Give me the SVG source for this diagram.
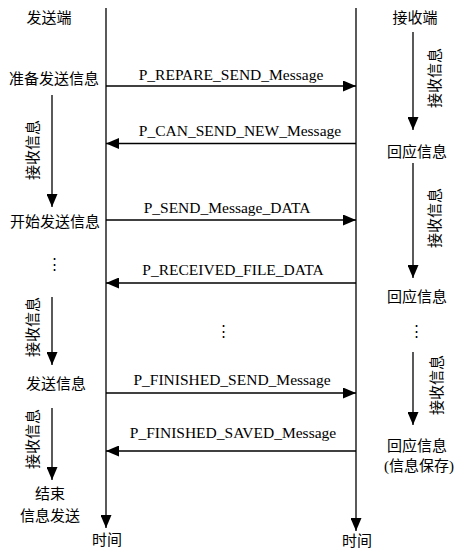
<svg xmlns="http://www.w3.org/2000/svg" width="454" height="550" viewBox="0 0 454 550">
<style>
.ln{stroke:#000;stroke-width:1.3;fill:none}
.en{font-family:"Liberation Serif","Times New Roman",serif;font-size:15.5px;fill:#000;text-anchor:middle}
.cn{font-family:"Liberation Serif","Noto Sans CJK SC",serif;font-size:15px;fill:#000;text-anchor:middle}
.rt{font-family:"Liberation Serif","Noto Sans CJK SC",serif;font-size:15px;fill:#000;text-anchor:middle;dominant-baseline:central}
</style>
<defs>
<marker id="ah" markerUnits="userSpaceOnUse" markerWidth="13" markerHeight="11" refX="13" refY="5.5" orient="auto">
<path d="M0,0 L13,5.5 L0,11 z" fill="#000"/>
</marker>
</defs>
<rect width="454" height="550" fill="#fff"/>
<g id="connectors">
<line class="ln" x1="106" y1="8" x2="106" y2="528" marker-end="url(#ah)"/>
<line class="ln" x1="356" y1="8" x2="356" y2="531" marker-end="url(#ah)"/>
<line class="ln" x1="106" y1="86" x2="356" y2="86" marker-end="url(#ah)"/>
<line class="ln" x1="356" y1="143.5" x2="106" y2="143.5" marker-end="url(#ah)"/>
<line class="ln" x1="106" y1="220" x2="356" y2="220" marker-end="url(#ah)"/>
<line class="ln" x1="356" y1="283" x2="106" y2="283" marker-end="url(#ah)"/>
<line class="ln" x1="106" y1="393" x2="356" y2="393" marker-end="url(#ah)"/>
<line class="ln" x1="356" y1="451" x2="106" y2="451" marker-end="url(#ah)"/>
<line class="ln" x1="52" y1="95" x2="52" y2="207" marker-end="url(#ah)"/>
<line class="ln" x1="52" y1="297" x2="52" y2="365" marker-end="url(#ah)"/>
<line class="ln" x1="52" y1="408" x2="52" y2="480" marker-end="url(#ah)"/>
<line class="ln" x1="413" y1="32" x2="413" y2="130" marker-end="url(#ah)"/>
<line class="ln" x1="413" y1="163" x2="413" y2="278" marker-end="url(#ah)"/>
<line class="ln" x1="413" y1="352" x2="413" y2="425" marker-end="url(#ah)"/>
</g>
<g id="msg-labels">
<text class="en" x="231" y="80">P_REPARE_SEND_Message</text>
<text class="en" x="240" y="136">P_CAN_SEND_NEW_Message</text>
<text class="en" x="227" y="213">P_SEND_Message_DATA</text>
<text class="en" x="233" y="275">P_RECEIVED_FILE_DATA</text>
<text class="en" x="232" y="385">P_FINISHED_SEND_Message</text>
<text class="en" x="233" y="438">P_FINISHED_SAVED_Message</text>
<text class="cn" x="223" y="336">⋮</text>
</g>
<g id="sender">
<text class="cn" x="49" y="23">发送端</text>
<text class="cn" x="54" y="84">准备发送信息</text>
<text class="cn" x="55" y="227">开始发送信息</text>
<text class="cn" x="54" y="269">⋮</text>
<text class="cn" x="56" y="389">发送信息</text>
<text class="cn" x="50" y="499">结束</text>
<text class="cn" x="50" y="521">信息发送</text>
<text class="cn" x="107" y="545">时间</text>
<text class="rt" transform="translate(33,150) rotate(-90)">接收信息</text>
<text class="rt" transform="translate(33,327) rotate(-90)">接收信息</text>
<text class="rt" transform="translate(33,439) rotate(-90)">接收信息</text>
</g>
<g id="receiver">
<text class="cn" x="415" y="23">接收端</text>
<text class="cn" x="417" y="157">回应信息</text>
<text class="cn" x="417" y="302">回应信息</text>
<text class="cn" x="416" y="336">⋮</text>
<text class="cn" x="417" y="451">回应信息</text>
<text class="cn" x="419" y="471">(信息保存)</text>
<text class="cn" x="357" y="546">时间</text>
<text class="rt" transform="translate(435,78) rotate(-90)">接收信息</text>
<text class="rt" transform="translate(435,218) rotate(-90)">接收信息</text>
<text class="rt" transform="translate(437,385) rotate(-90)">接收信息</text>
</g>
</svg>
